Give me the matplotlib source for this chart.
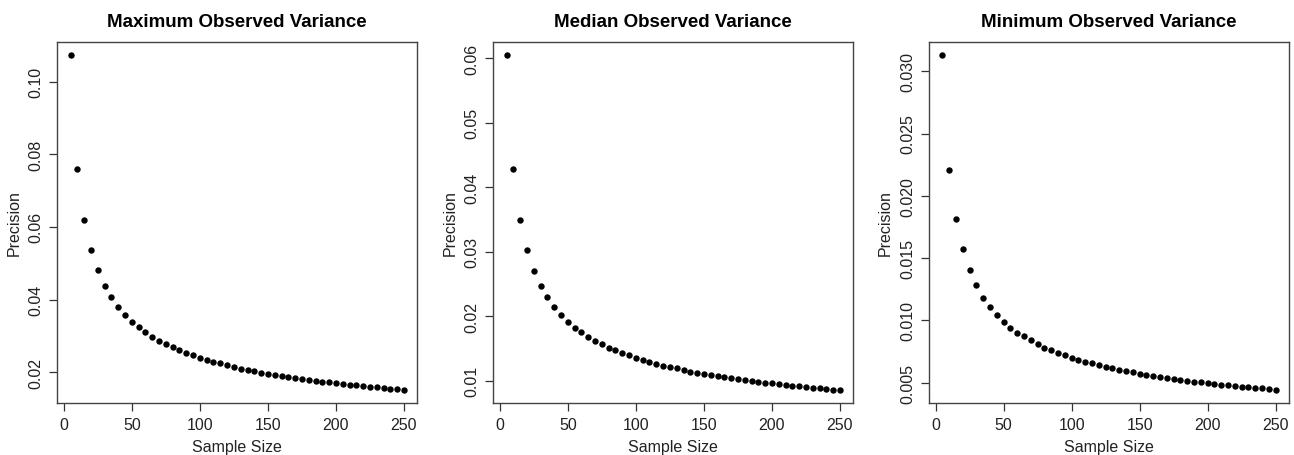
import matplotlib
matplotlib.use("Agg")
import matplotlib.pyplot as plt

sample_size = list(range(5, 251, 5))

precision_max = [0.1073, 0.0759, 0.0620, 0.0537, 0.0480, 0.0438, 0.0406, 0.0379, 0.0358, 0.0339,
                 0.0324, 0.0310, 0.0298, 0.0287, 0.0277, 0.0268, 0.0260, 0.0253, 0.0246, 0.0240,
                 0.0234, 0.0229, 0.0224, 0.0219, 0.0215, 0.0210, 0.0207, 0.0203, 0.0199, 0.0196,
                 0.0193, 0.0190, 0.0187, 0.0184, 0.0181, 0.0179, 0.0176, 0.0174, 0.0172, 0.0170,
                 0.0168, 0.0166, 0.0164, 0.0162, 0.0160, 0.0158, 0.0157, 0.0155, 0.0153, 0.0152]

precision_median = [0.0605, 0.0428, 0.0349, 0.0302, 0.0270, 0.0247, 0.0229, 0.0214, 0.0202, 0.0191,
                    0.0182, 0.0175, 0.0168, 0.0162, 0.0156, 0.0151, 0.0147, 0.0143, 0.0139, 0.0135,
                    0.0132, 0.0129, 0.0126, 0.0123, 0.0121, 0.0119, 0.0116, 0.0114, 0.0112, 0.0110,
                    0.0109, 0.0107, 0.0105, 0.0104, 0.0102, 0.0101, 0.0099, 0.0098, 0.0097, 0.0096,
                    0.0094, 0.0093, 0.0092, 0.0091, 0.0090, 0.0089, 0.0088, 0.0087, 0.0086, 0.0086]

precision_min = [0.0313, 0.0221, 0.0181, 0.0157, 0.0140, 0.0128, 0.0118, 0.0111, 0.0104, 0.0099,
                 0.0094, 0.0090, 0.0087, 0.0084, 0.0081, 0.0078, 0.0076, 0.0074, 0.0072, 0.0070,
                 0.00683, 0.00667, 0.00653, 0.00639, 0.00626, 0.00614, 0.00602, 0.00592, 0.00581, 0.00572,
                 0.00562, 0.00553, 0.00545, 0.00537, 0.00529, 0.00522, 0.00515, 0.00508, 0.00501, 0.00495,
                 0.00489, 0.00483, 0.00477, 0.00472, 0.00467, 0.00462, 0.00457, 0.00452, 0.00447, 0.00443]

titles = ["Maximum Observed Variance", "Median Observed Variance", "Minimum Observed Variance"]
x_ticks = [0, 50, 100, 150, 200, 250]
y_ticks = [
    [0.02, 0.04, 0.06, 0.08, 0.10],
    [0.01, 0.02, 0.03, 0.04, 0.05, 0.06],
    [0.005, 0.010, 0.015, 0.020, 0.025, 0.030],
]
y_labels = [
    ["0.02", "0.04", "0.06", "0.08", "0.10"],
    ["0.01", "0.02", "0.03", "0.04", "0.05", "0.06"],
    ["0.005", "0.010", "0.015", "0.020", "0.025", "0.030"],
]
series = [precision_max, precision_median, precision_min]

plt.rcParams['font.family'] = ['Liberation Sans', 'DejaVu Sans']

W, H = 1294, 456
fig = plt.figure(figsize=(W / 100, H / 100), dpi=100)

lefts = [57.3, 493.3, 929.0]
width = 360.0
top, bottom = 42.7, 404.0

for i in range(3):
    ax = fig.add_axes([lefts[i] / W, 1 - bottom / H, width / W, (bottom - top) / H])
    ys = series[i]
    ax.plot(sample_size, ys, 'o', color='black', markersize=4.6, markeredgewidth=0)
    xr = max(sample_size) - min(sample_size)
    ax.set_xlim(min(sample_size) - 0.04 * xr, max(sample_size) + 0.04 * xr)
    yr = max(ys) - min(ys)
    ax.set_ylim(min(ys) - 0.04 * yr, max(ys) + 0.04 * yr)
    ax.set_xticks(x_ticks)
    ax.set_xticklabels([str(t) for t in x_ticks])
    ax.set_yticks(y_ticks[i])
    ax.set_yticklabels(y_labels[i], rotation=90, va='center')
    ax.tick_params(axis='both', direction='out', length=6, width=0.9, color='#333333',
                   labelsize=11.5, labelcolor='#222222', pad=4)
    for s in ax.spines.values():
        s.set_color('#444444')
        s.set_linewidth(1.0)
    ax.set_title(titles[i], fontsize=13.5, fontweight='bold', pad=11)
    ax.set_xlabel("Sample Size", fontsize=11.5, color='#222222', labelpad=5)
    ax.set_ylabel("Precision", fontsize=11.5, color='#222222', labelpad=5)

fig.savefig("out.png", dpi=100)
